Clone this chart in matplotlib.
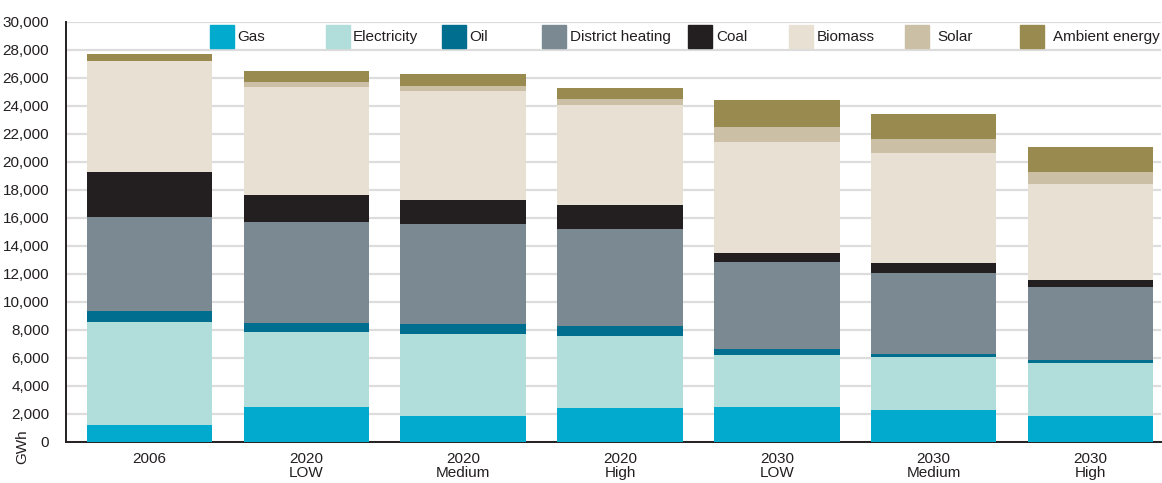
import numpy as np
import matplotlib.pyplot as plt
from matplotlib.patches import Rectangle

plt.rcParams['font.family'] = ['Liberation Sans', 'DejaVu Sans']

# Dados (GWh)
cenarios = ['2006', '2020\nLOW', '2020\nMedium', '2020\nHigh', '2030\nLOW', '2030\nMedium', '2030\nHigh']
fontes = ['Gas', 'Electricity', 'Oil', 'District heating', 'Coal', 'Biomass', 'Solar', 'Ambient energy']

gas = [1200, 2500, 1850, 2400, 2500, 2300, 1850]
electricity = [7350, 5350, 5850, 5150, 3700, 3800, 3800]
oil = [800, 650, 700, 700, 430, 200, 200]
district_heating = [6700, 7200, 7150, 6950, 6200, 5800, 5200]
coal = [3200, 1950, 1700, 1700, 650, 650, 550]
biomass = [7950, 7700, 7850, 7200, 7950, 7900, 6850]
solar = [0, 350, 350, 400, 1050, 1000, 800]
ambient = [500, 800, 800, 800, 1950, 1800, 1850]

cores = ['#02abcd', '#b1dedb', '#006f8f', '#7b8a92', '#231f20', '#e7e0d3', '#cbc0a5', '#998a50']
series = [gas, electricity, oil, district_heating, coal, biomass, solar, ambient]

fig = plt.figure(figsize=(11.62, 4.83), dpi=100)
ax = fig.add_axes([0.0568, 0.0849, 0.9424, 0.8696])

x = np.arange(len(cenarios))
base = np.zeros(len(cenarios))
for vals, cor, nome in zip(series, cores, fontes):
    ax.bar(x, vals, bottom=base, width=0.8, color=cor, label=nome, zorder=3)
    base += np.array(vals)

ax.set_xlim(-0.532, 6.45)
ax.set_ylim(0, 30000)
ax.set_yticks(np.arange(0, 30001, 2000))
ax.yaxis.set_major_formatter(plt.FuncFormatter(lambda v, p: f'{int(v):,}'))
ax.set_xticks(x)
ax.set_xticklabels(cenarios, linespacing=1.0)
ax.tick_params(axis='both', length=0, labelsize=11, colors='#231f20')
ax.tick_params(axis='y', pad=12)
ax.tick_params(axis='x', pad=7)

ax.grid(axis='y', color='#dcdcdc', linewidth=1.6, zorder=0)
ax.set_axisbelow(True)
for s in ['top', 'right']:
    ax.spines[s].set_visible(False)
ax.spines['left'].set_color('#231f20')
ax.spines['bottom'].set_color('#231f20')
ax.spines['left'].set_linewidth(1.4)
ax.spines['bottom'].set_linewidth(1.4)

fig.text(22 / 1162, 1 - 447 / 483, 'GWh', rotation=90, ha='center', va='center',
         fontsize=11, color='#231f20')

# Legenda desenhada manualmente (posições em pixels da figura)
leg_patch_x = [210, 326, 442, 542, 688, 789, 905, 1020]
leg_text_x = [237, 353, 469, 570, 716, 817, 937, 1053]
W, H = 1162, 483
for px, tx, cor, nome in zip(leg_patch_x, leg_text_x, cores, fontes):
    fig.patches.append(Rectangle((px / W, 1 - 48 / H), 24 / W, 23 / H,
                                 transform=fig.transFigure, color=cor, zorder=5))
    fig.text(tx / W, 1 - 37 / H, nome, ha='left', va='center', fontsize=11, color='#231f20')

plt.savefig('out.png', dpi=100)
